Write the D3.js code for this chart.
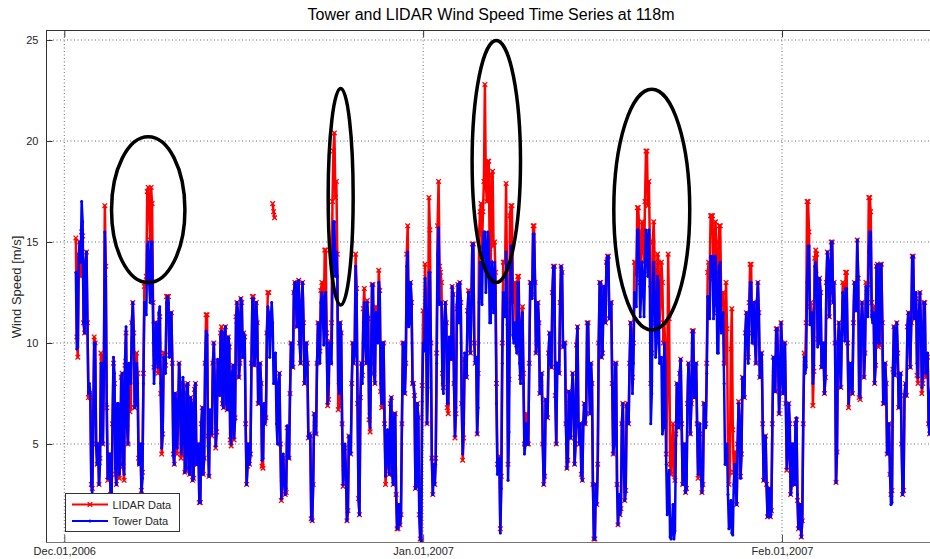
<!DOCTYPE html>
<html><head><meta charset="utf-8">
<script src="https://cdn.jsdelivr.net/npm/d3@7"></script>
<style>
body{margin:0;background:#fff;}
svg{display:block;font-family:"Liberation Sans",Arial,Helvetica,sans-serif;}
</style>
</head><body>
<svg id="chart" width="930" height="559"></svg>
<script>
// ---------------- data ----------------
const chartTitle = "Tower and LIDAR Wind Speed Time Series at 118m";
const yLabel = "Wind Speed [m/s]";
const seriesNames = ["LIDAR Data", "Tower Data"];
const seriesColors = ["#ff0000", "#0000ff"];
const xTickDates = ["2006-12-01T00:00:00Z", "2007-01-01T00:00:00Z", "2007-02-01T00:00:00Z"];
const xTickLabels = ["Dec.01,2006", "Jan.01,2007", "Feb.01,2007"];
const yTicks = [5, 10, 15, 20, 25];
const startTime = "2006-12-02T00:00:00Z";
const stepHours = 2;

// one row per day, 12 samples (every 2 h)
const towerSpeed = [
13.5,9.7,9.8,14.4,15,14,17,16,11,10.5,14,14.5,
11,7.5,8,7.5,3,2.5,6,10,10,5,4,5,
3,4,9,9,5,8.3,15.5,13.3,7,3.3,3.5,4.5,
2.5,2.3,6,9.3,8.5,3.8,3,7,7,3.5,4,8.3,
8.5,4,3.5,9.2,10.8,5.9,5,9,9,8,11,12,
10.5,6.8,7,9,8,4,4,5,2.5,3.3,8,12,
12,11.4,14.8,15,13,12,15,15,11,8,9,11,
10,8.8,11.5,11.8,8,4.8,5.5,9.3,9,8.5,12,12.3,
12,9.3,10.5,11.5,9,4.5,4,7.5,7,4.8,6.5,9,
8,4.5,5,8.3,7.5,3.6,3.7,7.9,8,3.8,3.5,7.3,
7,3.2,3.3,7.7,8,4,4,5,2.1,2.1,6,6.8,
3.5,4.3,9,10.6,10.4,4.9,3.4,6.7,6,5.5,9,10,
8,4.9,5.8,9.2,8.5,7.4,10.3,10.6,7,6.8,10.5,10.8,
7,6.7,10.3,9.9,5.5,5,8.5,8.9,5.3,6.2,11,12,
11.5,8.3,9,12.2,12,9.3,10.5,10.3,6,3,4,5,
4,4.5,9,12.2,12.2,8.9,9.5,12,11,7,7,9,
8,4.2,4.3,7,6,6.3,10.5,11.8,11.5,9.3,11,12,
11,8,9,9.5,6,5,8,8.5,5,2.3,3.5,4.5,
3,2.5,2.8,5.9,5,4.3,7.5,10,9,8.8,12.5,13,
12.5,10.8,13,13.1,10,9,12,13,11,8,9,10,
9,5.3,5.5,5.4,1.3,1.2,3,6.5,6,5.5,9,11,
10,9,12,12.5,11.5,9.9,12.3,12.5,10,7,8,10,
9,9,13,16,16,13.3,14.5,13.3,8,7.5,11,10.5,
6,3,4,5,3.5,1.2,1.7,5.4,5,4.5,8,10,
9,9.4,13.8,12.4,7,2.3,1.5,7.3,9,8,11,12,
10,9,12,11.3,6.5,5.8,9,12.9,12.9,8.5,8,11.5,
11,10,13,12.5,8,7,10,10,6,3.4,4.7,5.7,
4,3.5,7,7.3,3.5,3,6.5,6.5,2.5,0.8,0.8,2,
1,1.5,6,10,10,7.5,9,13.8,14.5,10.8,11,13,
12,8,8,7.4,2.8,2.9,7,6.3,1.5,0.3,0.2,7.1,
10,9.6,13.2,11.6,6,7.8,13.5,13.5,10,4.3,2.5,4,
3,4,9,14.4,15.7,11.9,12,12,8,7.5,11,12,
11,7,7,10.3,9.5,9.2,12.8,12.4,8,5.4,6.8,11.9,
12.9,11,13,12,7,4.5,6,9.5,9,8.3,11.5,12.5,
11,9.5,12,14.9,14.9,10,9,9.3,5.5,6.8,12,14,
13,11.9,14.8,15.5,15.5,12.5,13.5,15.5,15,11,11,14,
13,11.5,14,12.5,7,3.5,4,4.3,0.6,2.8,9,12.5,
12,11.3,14.5,10.9,3.2,5.6,12,14.8,14.8,10.4,10,11,
10,9.5,13,13,9,8,11,11.5,8,4.5,5,6,
5,5,9,13,13,12.2,15.4,15.4,13,9.5,10,12,
11,7.5,8,8.5,5,3,3.4,7.2,7,6.3,9.5,10.5,
9,8.8,12.5,13.8,13.8,7.4,5,9,9,8.5,12,13.8,
13.5,9.8,10,10,6,3.8,4.2,7.6,7,5.3,7.5,8.5,
7,4,5,9.9,10.8,5.9,5,6,3.5,3.2,6,7,
6,6.5,11,11,8,6.5,9,8,3,0.3,0.3,3,
2,4,10,13,13,9.3,9.5,12.8,12,11,14,14.3,
14.3,11.2,12,12,8,4.5,5,9,9,3,1,2.5,
1.5,1.8,6,7,4,2.2,2.7,6.9,7,6,9,11,
10,7.5,9,12.5,12,11.8,15.6,15.6,14,11.3,12.5,14,
13,11.3,13.5,15.6,15,13.3,15.6,12.8,6,7.5,13,14,
12.5,9.3,10,13.3,13,9,9,9.3,5.5,5.8,10,9,
4,1.5,3,3.7,0.4,0.3,1,2,0.3,0.7,5,8,
7,5.8,8.5,9.2,6,3,4,5,2.6,2.8,7,9,
8,5.5,7,10.6,10.6,7.3,8,9,6,3.5,5,6,
3.5,2.6,3,7,7,5.8,8.5,12.3,12,11.2,14.3,14.3,
14.3,11.2,12,14.3,13.5,9.5,9.5,13.8,14,10.5,11,11.5,
8,4,4,5,2.5,0.8,1.2,2.2,0.6,0.5,3,4,
3,2,5,7,6,3.3,4.5,8.3,8,7.3,10.5,11.5,
10.5,9,11.5,13,13,10,11,12,10,9,12,13,
11.5,8.3,9,9.5,6,3.2,4.4,5.4,3,1.4,1.8,2.8,
1.4,1.7,6,9.3,8.5,7.6,10.7,10.7,9,6.5,8,11,
10,7.5,9,10,7,3.8,4.5,7,6,2.5,3,5,
4,3,6,6.3,2.5,0.8,1,2,0.4,1.2,6,9.3,
8.5,8.8,13,14.8,14.8,10.9,11,11.5,8,8.9,13.8,14,
13.5,9.8,10,13.2,12.5,8.8,9,10,7.5,8.3,13,14.5,
14,11.3,12.5,15,15,12,13,10,3.1,4.6,10,11,
9,7.8,10.5,12.5,11.5,10.1,12.7,12.7,10,7,8,9,
8,7.5,11,13,12,11.6,15.1,13.3,7.5,7.3,11,12,
11,8.3,9.5,12.8,12,11.3,14.5,15.5,15.5,11.3,11,11.5,
8,8.9,13.8,13.9,10,10,13.9,13.9,11,7,7,9,
8,4.5,5,6,3.5,2,2.1,8.5,10.8,8.4,10,11,
9.5,6.8,8,8.5,5,2.5,2.7,7.4,8,7.4,10.8,11.5,
10.5,8.8,11,14.3,14.3,11.2,12,12.5,9,8.3,11.5,12.5,
11,7.8,8.5,12,12,8.5,9,9.5,6,5.5,7.5,8
];

const lidarSpeed = [
15.2,10.3,9.3,14.2,15,13.3,15.5,15.3,11,10.5,14,14.5,
11,7.3,7.5,7.3,3,2.8,6.5,10.3,10,5,4,5,
3,4.3,9.5,9.3,5,8.9,16.8,13.8,6.8,3.2,3.5,4.5,
2.5,2.3,6,9,8,3.5,3,6.8,6.5,3.3,4,8.3,
8.5,3.9,3.2,8.9,10.5,5.8,5,7.6,6.6,6.8,11,12,
10.5,6.8,7,9.5,8.5,4.3,4,5,2.7,3.6,8.5,12.8,
13,13.3,17.5,17.7,16.5,15.1,17.7,16.9,12,8.8,9.5,11,
10,8.5,11,11.3,7.5,4.5,5.5,9.5,9.5,8.9,12.3,12.3,
12.3,9.4,10.5,11.5,9,4.5,4,7.5,7,4.5,6,9,
8,4.3,4.5,8,7.5,3.6,3.7,7.9,8,3.8,3.5,7.3,
7,3.2,3.3,7.7,8,4,4,5,2.1,2.1,6,6.8,
3.5,4.3,9,11.4,11.4,5.4,3.4,6.6,5.7,5.4,9,10,
8,4.8,5.6,9.1,8.5,7.5,10.5,10.8,7,6.8,10.5,10.8,
7,6.7,10.3,9.8,5.2,4.9,8.5,8.9,5.2,6.3,11.3,12,
11.5,8.3,9,12.2,12,9.3,10.5,10.3,6,3,3.9,5,
4,4.5,9,12.3,12.3,8.9,9.5,12,11,7,7,9,
8,3.9,3.8,6.9,6,6.3,10.5,12.5,12.5,null,null,null,
16.9,16.5,16.2,null,null,null,8,8.5,5,2.2,3.3,4.3,
3,2.5,2.6,5.8,5,4.3,7.5,10,9,8.8,12.5,13,
12.5,10.8,13,13.1,10,9,12.1,13,11,8,9,10,
9,5.3,5.5,5.4,1.3,1.2,3,6.5,6,5.5,9,11,
10.5,9.6,12.6,13,12,11.3,14.6,14.6,10.5,6.9,7.2,10.1,
9,11,17,19.5,20.4,17.2,18,14.4,6.7,6.9,11,10.5,
6,2.9,3.8,4.8,3.5,1.2,1.7,5.4,5,4.5,8,10,
9,9.7,14.4,12.7,7,2.3,1.5,7.3,9,8.4,11.7,12.7,
10,9,12.1,11.2,6.2,5.6,9,12.9,12.9,8.5,8,11.8,
11.5,10.6,13.6,12.6,7.6,6.8,10,10,6,3,4,5,
4,3.5,7,7.3,3.5,3,6.5,6.5,2.5,0.8,0.8,2,
1,1.5,6,10,10,7.5,9,14.4,15.8,11.4,11,13,
12,8,8,7.4,2.8,2.9,7,6.3,1.5,0.3,0.2,7.9,
11.6,10.8,13.9,12,6,9.6,17.2,15.6,10,4.3,2.5,4,
3,4.3,9.5,15.8,18,13.8,13.5,13,8.5,7.8,11,12,
11,6.8,6.5,10,9.5,9.2,12.8,12.4,8,5.3,6.5,11.7,
12.9,11,13,12,7,4.2,5.3,9.2,9,8.3,11.6,12.6,
11,9.5,12,14.9,14.9,10,9,9.3,5.5,8.5,15.4,16.5,
16.9,14.7,16.5,18,22.8,17.9,17,19,19,14.5,14,18.3,
18.5,14.8,15,13.5,8,4,4,4.4,0.8,3.4,10,14,
14,14,17.9,13,4,8.2,16.3,16.8,16.8,12.4,12,13,
10.5,9.9,13.3,13.3,9.5,8.3,11,11.8,8.5,5,5.5,6.5,
5,5,9,13,13,12.4,15.8,15.8,13,9.5,10,12,
11,7.5,8,8.5,5,3,3.4,7.2,7,6.3,9.5,10.5,
9,8.8,12.5,13.8,13.8,7.4,5,9,9,8.5,12,13.8,
13.5,9.8,10,10,6,3.8,4.2,7.6,7,5.3,7.5,8.5,
7,4,5,9.9,10.8,5.9,5,6,3.5,3.2,6,7,
6,6.5,11,11,8,6.5,9,8,3,0.3,0.3,3,
2,4,10,13,13,9.3,9.5,12.8,12,11,14,14.3,
14.3,11.2,12,12,8,4.5,5,9,9,3,1,2.5,
1.5,1.8,6,7,4,2.2,2.7,6.9,7,6,9,11,
10.5,8.3,10,14,14,13.4,16.7,16.7,15.5,13,14.5,16,
15,14,17,19.5,19.5,16.8,18,15,8,9.5,15,16,
14,11,12,14.4,14,11,12,14,13,10,11,9.8,
4.5,7.5,14.4,11.2,4,3.5,5,6,3.5,3.2,5.5,8,
7,5.8,8.5,9.2,6,3,4,5,2.6,2.8,7,9,
8,5.5,7,10.6,10.6,7.3,8,9,6,3.3,4.5,5.5,
3.5,2.6,3,7,7,6,9,13.5,14,13.2,16.3,16.3,
16.3,13.2,14,16,15,11.5,12,15.8,15.8,11.9,12,12.5,
9,9,13,10.7,4.4,3,3.6,9.7,11.7,5.7,3.6,4.6,
3,2,5,7.1,6.2,3.4,4.5,8.3,8,7.3,10.5,11.5,
10.5,9.3,12,13.9,13.9,10.5,11,12,10,9,12,13,
11.5,8.3,9,9.5,6,3.2,4.4,5.4,3,1.4,1.8,2.8,
1.4,1.7,6,9.3,8.5,7.6,10.7,10.7,9,6.5,8,11,
10,7.5,9,10,7,3.7,4.4,7,6,2.5,3,5,
4,3,6,6.2,2.2,0.8,1,2,0.4,1.2,6,9.5,
9,11,17,17,15.5,11.8,12,11.5,6.9,8.6,14.2,14.6,
14.4,10.2,10,13.2,12.5,8.8,9,10,7.5,8.3,13,14.5,
14,11.3,12.5,15,15,12,13,10,3.1,4.6,10,11,
9,7.8,10.5,13,12,10.8,13.5,13.5,10,6.8,7.5,9,
8,7.5,11,13,12,11.6,15.1,13.2,7.3,7.2,11,12,
11,8.3,9.5,13,12.5,12.9,17.2,17.2,16.5,12,11.5,11.8,
8,8.9,13.8,13.9,9.8,9.9,13.9,13.9,11,7,7,9,
8,4.5,5,6,3.5,2.5,2.7,8.7,10.8,8.4,10,11,
9.5,6.8,8,8.5,5,2.5,2.7,7.4,8,7.4,10.8,11.5,
10.5,8.8,11,14.3,14.3,11.2,12,12.2,8.4,8,11.5,12.5,
11,7.5,8,12,12,8.3,8.5,9.3,6,5.5,6,6.5
];

// highlighted events (ellipses), in data units
const highlightCenters = ["2006-12-08T06:00:00Z", "2006-12-24T21:00:00Z", "2007-01-07T07:40:00Z", "2007-01-20T18:00:00Z"];
const highlightSpeeds = [16.6, 17.24, 18.98, 16.6];
const highlightHalfDays = [3.17, 1.08, 2.09, 3.28];
const highlightHalfSpeeds = [3.61, 5.36, 5.99, 5.96];

// ---------------- drawing ----------------
const svg = d3.select("#chart");
const frame = {left: 46, right: 930, top: 30, bottom: 542};
const parse = s => new Date(s);
const t0 = parse(startTime).getTime();
const timeAt = i => new Date(t0 + i * stepHours * 3600e3);

const x = d3.scaleUtc()
  .domain([parse(xTickDates[0]), parse(xTickDates[2])])
  .range([64.3, 782]);
const y = d3.scaleLinear().domain([5, 25]).range([444, 40]);

svg.append("rect").attr("width", 930).attr("height", 559).attr("fill", "#fff");

const defs = svg.append("defs");
defs.append("clipPath").attr("id", "plotclip").append("rect")
  .attr("x", frame.left).attr("y", frame.top)
  .attr("width", frame.right - frame.left).attr("height", frame.bottom - frame.top);

// grid
const grid = svg.append("g").attr("stroke", "#444").attr("stroke-width", 0.8)
  .attr("stroke-dasharray", "1,2.5");
yTicks.forEach(v => grid.append("line")
  .attr("x1", frame.left).attr("x2", frame.right)
  .attr("y1", y(v)).attr("y2", y(v)));
xTickDates.forEach(s => grid.append("line")
  .attr("x1", x(parse(s))).attr("x2", x(parse(s)))
  .attr("y1", frame.top).attr("y2", frame.bottom));

// data
const plot = svg.append("g").attr("clip-path", "url(#plotclip)");
const mk = arr => arr.map((v, i) => ({t: timeAt(i), v}));
const lidar = mk(lidarSpeed), tower = mk(towerSpeed);
const line = d3.line().defined(d => d.v != null).x(d => x(d.t)).y(d => y(d.v));
const xMark = "M-2.3,-2.3L2.3,2.3M-2.3,2.3L2.3,-2.3";

plot.append("path").datum(lidar).attr("d", line)
  .attr("fill", "none").attr("stroke", seriesColors[0]).attr("stroke-width", 2.5)
  .attr("stroke-linejoin", "round");
plot.append("g").selectAll("path").data(lidar.filter(d => d.v != null)).join("path")
  .attr("transform", d => `translate(${x(d.t)},${y(d.v)})`)
  .attr("d", xMark)
  .attr("stroke", seriesColors[0]).attr("stroke-width", 1.3).attr("fill", "none");

plot.append("path").datum(tower).attr("d", line)
  .attr("fill", "none").attr("stroke", seriesColors[1]).attr("stroke-width", 2.5)
  .attr("stroke-linejoin", "round");
plot.append("g").selectAll("circle").data(tower).join("circle")
  .attr("cx", d => x(d.t)).attr("cy", d => y(d.v)).attr("r", 1.5)
  .attr("fill", seriesColors[1]);

// ellipses
const ell = svg.append("g").attr("fill", "none").attr("stroke", "#000").attr("stroke-width", 3.5);
highlightCenters.forEach((c, i) => {
  const ct = parse(c);
  const cx = x(ct), cy = y(highlightSpeeds[i]);
  const rx = x(new Date(ct.getTime() + highlightHalfDays[i] * 86400e3)) - cx;
  const ry = y(highlightSpeeds[i] - highlightHalfSpeeds[i]) - cy;
  ell.append("ellipse").attr("cx", cx).attr("cy", cy).attr("rx", rx).attr("ry", ry);
});

// frame
const fr = svg.append("g").attr("stroke", "#333").attr("stroke-width", 1);
fr.append("line").attr("x1", frame.left).attr("x2", frame.right).attr("y1", frame.top + 0.5).attr("y2", frame.top + 0.5);
fr.append("line").attr("x1", frame.left + 0.5).attr("x2", frame.left + 0.5).attr("y1", frame.top).attr("y2", frame.bottom);
fr.append("line").attr("x1", frame.left).attr("x2", frame.right).attr("y1", frame.bottom + 0.5).attr("y2", frame.bottom + 0.5).attr("stroke", "#777");

// axes
const yAxis = d3.axisLeft(y).tickValues(yTicks).tickSize(-6).tickPadding(8).tickFormat(d3.format("d"));
const gy = svg.append("g").attr("transform", `translate(${frame.left + 0.5},0)`).call(yAxis);
gy.select(".domain").remove();
gy.selectAll("text").attr("font-size", 11).attr("fill", "#262626").attr("font-family", "Liberation Sans, Arial, sans-serif");
gy.selectAll("line").attr("stroke", "#333");

const xAxis = d3.axisBottom(x).tickValues(xTickDates.map(parse)).tickSize(-7).tickPadding(5)
  .tickFormat((d, i) => xTickLabels[i]);
const gx = svg.append("g").attr("transform", `translate(0,${frame.bottom})`).call(xAxis);
gx.select(".domain").remove();
gx.selectAll("text").attr("font-size", 11).attr("fill", "#262626").attr("font-family", "Liberation Sans, Arial, sans-serif");
gx.selectAll("line").attr("stroke", "#555");

const xTop = d3.axisTop(x).tickValues(xTickDates.map(parse)).tickSize(-7).tickFormat("");
const gt = svg.append("g").attr("transform", `translate(0,${frame.top})`).call(xTop);
gt.select(".domain").remove();
gt.selectAll("line").attr("stroke", "#333");

// title & labels
svg.append("text").attr("x", 491).attr("y", 20).attr("text-anchor", "middle")
  .attr("font-size", 16).attr("fill", "#000").text(chartTitle);
svg.append("text").attr("transform", "translate(21,287) rotate(-90)").attr("text-anchor", "middle")
  .attr("font-size", 13).attr("fill", "#262626").text(yLabel);

// legend
const lg = svg.append("g");
lg.append("rect").attr("x", 65.5).attr("y", 493.5).attr("width", 114).attr("height", 38)
  .attr("fill", "#fff").attr("stroke", "#333");
[0, 1].forEach(i => {
  const ly = 504.5 + i * 16.5;
  lg.append("line").attr("x1", 72).attr("x2", 108).attr("y1", ly).attr("y2", ly)
    .attr("stroke", seriesColors[i]).attr("stroke-width", 2);
  if (i === 0) {
    lg.append("path").attr("transform", `translate(90,${ly})`)
      .attr("d", xMark)
      .attr("stroke", seriesColors[0]).attr("stroke-width", 1.3);
  } else {
    lg.append("circle").attr("cx", 90).attr("cy", ly).attr("r", 1.6).attr("fill", seriesColors[1]);
  }
  lg.append("text").attr("x", 112.5).attr("y", ly + 4).attr("font-size", 11)
    .attr("fill", "#262626").text(seriesNames[i]);
});
</script>
</body></html>
